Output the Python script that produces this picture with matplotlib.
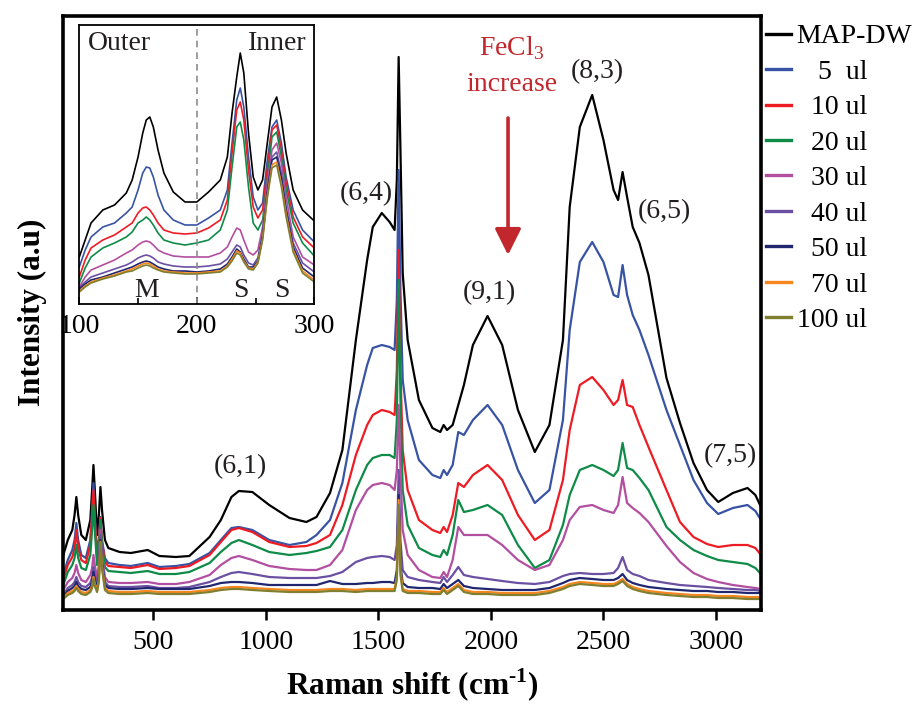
import matplotlib
matplotlib.use("Agg")
import matplotlib.pyplot as plt
from matplotlib.lines import Line2D

plt.rcParams['font.family'] = ['Liberation Serif', 'DejaVu Serif']
plt.rcParams['mathtext.fontset'] = 'custom'
plt.rcParams['mathtext.rm'] = 'Liberation Serif'
plt.rcParams['mathtext.bf'] = 'Liberation Serif:bold'

# ---------------- full-range spectra (Raman shift, cm-1) ----------------
shift = [100, 120, 140, 150, 158, 166, 180, 200, 220, 228, 234, 240, 250, 258, 265, 272, 285, 300,
         350, 400, 475, 527, 600, 660, 750, 800, 847, 880, 940, 1015, 1105, 1180, 1225, 1285, 1340,
         1400, 1450, 1475, 1515, 1550, 1572, 1582, 1590, 1598, 1608, 1630, 1680, 1740, 1775, 1790,
         1805, 1830, 1855, 1880, 1920, 1985, 2050, 2120, 2195, 2260, 2320, 2350, 2395, 2450, 2500,
         2545, 2565, 2585, 2605, 2630, 2660, 2700, 2780, 2840, 2900, 2960, 3010, 3075, 3140, 3175, 3200]

map_dw = [53, 68, 78, 93, 111, 93, 73, 68, 88, 118, 143, 118, 73, 93, 121, 98, 68, 60,
          56, 55, 58, 52, 51, 52, 71, 88, 111, 117, 116, 103, 90, 86, 91, 115, 158,
          268, 348, 381, 395, 386, 378, 428, 551, 458, 335, 268, 208, 180, 176, 183,
          178, 183, 203, 223, 263, 292, 263, 198, 156, 183, 268, 401, 481, 513, 468,
          418, 408, 436, 411, 381, 365, 333, 230, 185, 145, 118, 106, 115, 120, 113, 101]

ul_5 = [33, 48, 58, 68, 85, 68, 53, 50, 68, 98, 125, 93, 55, 68, 91, 68, 50, 45,
        43, 42, 45, 41, 42, 44, 55, 68, 80, 81, 78, 68, 63, 66, 73, 88, 125,
        198, 243, 260, 263, 261, 258, 308, 438, 318, 228, 188, 148, 133, 130, 138,
        133, 143, 176, 173, 188, 203, 183, 138, 105, 118, 188, 278, 346, 366, 346,
        313, 311, 343, 313, 293, 278, 253, 198, 163, 128, 105, 94, 100, 103, 97, 88]

ul_10 = [28, 43, 51, 60, 78, 60, 48, 45, 63, 93, 118, 88, 50, 63, 90, 66, 46, 42,
         41, 40, 43, 39, 40, 42, 53, 66, 78, 80, 76, 66, 61, 62, 65, 73, 103,
         153, 183, 193, 198, 196, 193, 238, 358, 238, 158, 118, 88, 78, 75, 81,
         76, 93, 125, 121, 133, 143, 128, 93, 68, 78, 128, 178, 223, 231, 218,
         203, 208, 228, 203, 201, 183, 161, 118, 86, 71, 64, 61, 63, 63, 60, 53]

ul_20 = [23, 36, 43, 50, 63, 50, 40, 38, 53, 78, 103, 78, 43, 56, 88, 63, 41, 37,
         36, 35, 37, 34, 34, 36, 45, 56, 65, 68, 63, 56, 53, 55, 57, 61, 78,
         118, 143, 150, 153, 153, 150, 188, 328, 208, 118, 83, 60, 53, 51, 58,
         53, 73, 108, 96, 98, 103, 93, 63, 40, 48, 83, 113, 138, 143, 138,
         132, 138, 165, 140, 138, 130, 118, 81, 68, 58, 52, 48, 46, 44, 40, 34]

ul_30 = [18, 26, 30, 35, 43, 35, 28, 26, 33, 40, 53, 43, 30, 43, 78, 53, 31, 26,
         25, 25, 26, 24, 24, 26, 33, 43, 50, 52, 48, 42, 39, 38, 38, 43, 58,
         98, 118, 123, 125, 123, 118, 138, 203, 138, 78, 53, 38, 31, 30, 36,
         31, 48, 81, 73, 73, 73, 63, 48, 38, 43, 68, 88, 101, 103, 98,
         95, 103, 131, 105, 100, 95, 86, 62, 46, 35, 29, 26, 23, 21, 20, 19]

ul_40 = [13, 20, 23, 26, 31, 26, 22, 21, 25, 31, 41, 33, 23, 36, 73, 48, 26, 22,
         21, 21, 22, 20, 20, 21, 26, 31, 35, 36, 34, 31, 30, 30, 30, 32, 36,
         46, 50, 51, 52, 51, 48, 63, 138, 68, 38, 31, 28, 26, 25, 31,
         26, 33, 41, 33, 31, 29, 27, 25, 24, 26, 32, 34, 35, 34, 34,
         35, 40, 51, 38, 34, 32, 28, 25, 23, 22, 21, 20, 19, 18, 18, 17]

ul_50 = [11, 17, 20, 22, 26, 22, 19, 18, 21, 26, 36, 28, 20, 31, 68, 43, 23, 20,
         19, 19, 20, 19, 19, 19, 22, 25, 26, 26, 25, 23, 23, 23, 23, 27, 24,
         24, 25, 25, 26, 26, 25, 38, 113, 43, 25, 21, 20, 20, 19, 24,
         20, 24, 28, 22, 20, 19, 18, 18, 18, 20, 25, 28, 30, 29, 28,
         28, 30, 34, 28, 25, 23, 21, 19, 18, 17, 17, 16, 16, 15, 15, 15]

ul_70 = [10, 15, 17, 19, 22, 19, 16, 15, 18, 22, 31, 24, 18, 28, 66, 41, 20, 17,
         16, 16, 17, 16, 16, 16, 18, 20, 21, 21, 20, 19, 18, 18, 18, 19, 19,
         18, 19, 19, 19, 19, 19, 31, 108, 38, 19, 17, 17, 16, 16, 20,
         16, 20, 24, 18, 16, 16, 15, 15, 15, 17, 21, 24, 26, 25, 24,
         24, 26, 29, 24, 21, 19, 17, 15, 14, 13, 13, 12, 12, 11, 11, 11]

ul_100 = [9, 13, 15, 17, 20, 17, 14, 13, 16, 20, 29, 22, 16, 26, 65, 40, 18, 15,
          14, 14, 15, 14, 14, 14, 16, 18, 19, 19, 18, 17, 16, 16, 16, 17, 17,
          16, 17, 17, 17, 17, 17, 28, 103, 33, 17, 15, 15, 14, 14, 18,
          14, 18, 22, 16, 14, 14, 13, 13, 13, 15, 19, 22, 24, 23, 22,
          22, 24, 27, 22, 19, 17, 15, 13, 12, 11, 11, 10, 10, 9, 9, 9]

# ---------------- radial breathing mode region (inset) ----------------
rbm_shift = [100, 105, 110, 120, 130, 140, 145, 150, 154, 157, 160, 163, 167, 172, 180, 190, 200,
             210, 220, 226, 230, 234, 237, 240, 244, 248, 252, 256, 260, 264, 268, 272, 276,
             282, 290, 300]

rbm_map_dw = [47, 64, 81, 94, 99, 111, 124, 147, 171, 184, 187, 177, 154, 131, 112, 102, 102,
              112, 124, 147, 191, 227, 251, 231, 171, 127, 114, 124, 161, 197, 207, 184, 151,
              114, 94, 83]
rbm_5 = [37, 54, 67, 77, 81, 91, 97, 114, 131, 137, 136, 127, 109, 94, 84, 79, 79,
         86, 94, 114, 161, 204, 216, 197, 147, 107, 94, 101, 144, 177, 184, 161, 127,
         94, 74, 62]
rbm_10 = [27, 44, 56, 64, 69, 77, 81, 91, 96, 97, 94, 89, 81, 74, 71, 70, 71,
          76, 84, 104, 151, 194, 202, 184, 134, 97, 86, 94, 134, 174, 179, 154, 121,
          87, 67, 56]
rbm_20 = [21, 36, 47, 56, 61, 67, 72, 81, 84, 87, 84, 79, 71, 64, 61, 59, 61,
          64, 74, 94, 137, 177, 182, 164, 117, 81, 74, 84, 124, 167, 172, 147, 114,
          81, 61, 48]
rbm_30 = [17, 27, 34, 39, 44, 51, 54, 59, 62, 63, 62, 59, 54, 51, 48, 47, 47,
          47, 51, 57, 67, 76, 74, 64, 52, 49, 54, 77, 121, 154, 161, 141, 107,
          67, 47, 39]
rbm_40 = [16, 22, 27, 31, 35, 39, 42, 46, 48, 49, 48, 46, 42, 40, 38, 37, 37,
          38, 40, 45, 52, 59, 57, 49, 41, 39, 46, 71, 114, 147, 152, 131, 97,
          61, 41, 32]
rbm_50 = [15, 20, 24, 27, 31, 35, 37, 40, 42, 43, 42, 40, 37, 35, 33, 33, 32,
          33, 35, 40, 47, 55, 52, 45, 37, 37, 43, 67, 111, 144, 147, 126, 94,
          57, 36, 27]
rbm_70 = [13, 18, 22, 26, 29, 33, 35, 38, 40, 41, 40, 38, 35, 33, 32, 31, 31,
          32, 33, 38, 45, 53, 51, 43, 36, 35, 42, 65, 108, 139, 142, 120, 90,
          54, 33, 24]
rbm_100 = [12, 17, 21, 25, 28, 32, 33, 36, 38, 39, 38, 36, 34, 32, 31, 30, 30,
           31, 32, 37, 43, 51, 49, 42, 35, 34, 41, 64, 106, 136, 139, 117, 87,
           52, 31, 22]

labels = ['MAP-DW', '   5  ul', '  10 ul', '  20 ul', '  30 ul', '  40 ul', '  50 ul', '  70 ul', '100 ul']
colors = ['#000000', '#3953a4', '#ed1c24', '#0f8b48', '#b24fa0', '#6a4fa2', '#21276f', '#f7861f', '#7f7f2f']

main_series = [map_dw, ul_5, ul_10, ul_20, ul_30, ul_40, ul_50, ul_70, ul_100]
rbm_series = [rbm_map_dw, rbm_5, rbm_10, rbm_20, rbm_30, rbm_40, rbm_50, rbm_70, rbm_100]

# chirality assignments: (label, shift, intensity)
assignments = [('(6,1)', 885, 141), ('(6,4)', 1445, 414), ('(9,1)', 1993, 315),
               ('(8,3)', 2471, 536), ('(6,5)', 2771, 396), ('(7,5)', 3066, 152)]

W, H = 916, 704
FS = 20
fig = plt.figure(figsize=(W / 100, H / 100), dpi=100)


def axrect(l, t, r, b):
    return [l / W, 1 - b / H, (r - l) / W, (b - t) / H]


ax = fig.add_axes(axrect(63.3, 16, 761, 609.5))
for ys, c in zip(main_series, colors):
    ax.plot(shift, ys, color=c, lw=1.6, solid_joinstyle='round')
ax.set_xlim(100, 3200)
ax.set_ylim(-1.5, 592)
ax.set_yticks([])
ax.set_xticks([500, 1000, 1500, 2000, 2500, 3000])
ax.tick_params(axis='x', direction='out', length=7, width=1.8, labelsize=FS, pad=8)
for s in ax.spines.values():
    s.set_linewidth(2.6)
ax.set_xlabel('Raman shift (cm$^{\\mathbf{\\text{-}1}}$)', fontsize=22.5, fontweight='bold', labelpad=8)
ax.set_ylabel('Intensity (a.u)', fontsize=22.5, fontweight='bold', labelpad=12)

for txt, x, y in assignments:
    ax.text(x, y, txt, fontsize=FS, ha='center', va='center', color='#231f20')

red = '#c1272d'
ax.text(2093, 553, 'FeCl$_3$', fontsize=FS, color=red, ha='center', va='baseline')
ax.text(2093, 517, 'increase', fontsize=FS, color=red, ha='center', va='baseline')
ax.annotate('', xy=(2076, 353), xytext=(2076, 490),
            arrowprops=dict(arrowstyle='-|>,head_length=1.6,head_width=0.8', color=red, lw=2.6,
                            shrinkA=0, shrinkB=0))

handles = [Line2D([], [], color=c, lw=2.4) for c in colors]
leg = ax.legend(handles, labels, loc='upper left', bbox_to_anchor=(766 / W, 1 - 24 / H),
                bbox_transform=fig.transFigure, frameon=False, fontsize=FS,
                handlelength=0.9, handletextpad=0.2, labelspacing=0.36,
                borderpad=0, borderaxespad=0)

# inset: radial breathing modes
ins = fig.add_axes(axrect(79.3, 25, 314.3, 304))
for ys, c in zip(rbm_series, colors):
    ins.plot(rbm_shift, ys, color=c, lw=1.2)
ins.axvline(200, color='#8c8c8c', lw=1.2, ls=(0, (4, 3)))
ins.set_xlim(100, 300)
ins.set_ylim(0, 279)
ins.set_yticks([])
ins.set_xticks([100, 200, 300])
ins.set_xticks([150, 250], minor=True)
ins.tick_params(axis='x', which='major', direction='in', length=5, width=1.2, labelsize=FS, pad=7)
ins.tick_params(axis='x', which='minor', direction='in', length=4, width=1.2)
for s in ins.spines.values():
    s.set_linewidth(1.3)
ins.text(107.4, 254, 'Outer', fontsize=FS, ha='left', va='baseline', color='#231f20')
ins.text(293.8, 254, 'Inner', fontsize=FS, ha='right', va='baseline', color='#231f20')
ins.text(157.6, 7, 'M', fontsize=FS, ha='center', va='baseline', color='#231f20')
ins.text(237.6, 7, 'S', fontsize=FS, ha='center', va='baseline', color='#231f20')
ins.text(272, 7, 'S', fontsize=FS, ha='center', va='baseline', color='#231f20')

fig.savefig('out.png', dpi=100)
